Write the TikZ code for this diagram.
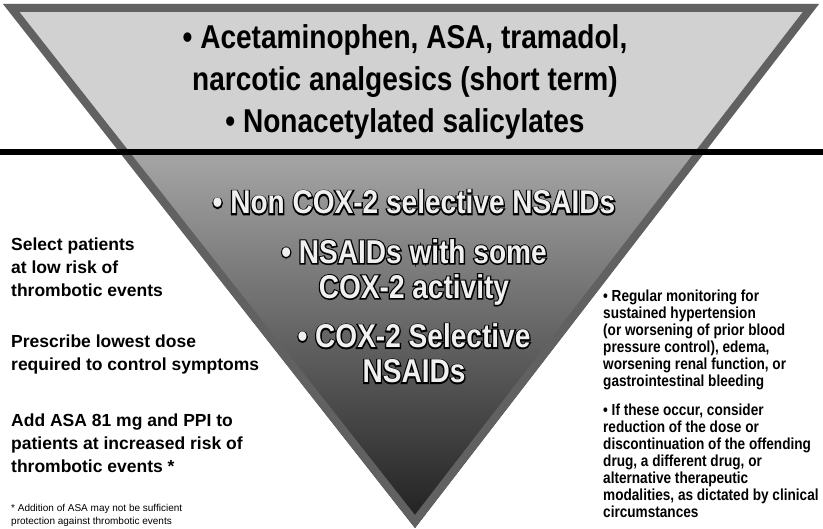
\documentclass[tikz,border=0pt]{standalone}
\usepackage{fontspec}
\setmainfont{Liberation Sans}
\newfontfamily\condsans{Liberation Sans}[FakeStretch=0.85]
\usepackage{tikz}
\usetikzlibrary{calc,positioning}
% light letters with a dark rim: a stroked copy under the filled one
\newcommand\rimmed[1]{\rlap{\special{pdf:literal direct 0 0 0 RG 2.6 w 1 Tr}#1\special{pdf:literal direct 0 Tr}}#1}

\begin{document}
\begin{tikzpicture}[x=1pt,y=-1pt]
  \tikzstyle{tiertext}=[inner sep=0pt, font=\condsans\bfseries\fontsize{33}{42}\selectfont]
  \tikzstyle{drugtext}=[inner sep=0pt, text=black!6, font=\condsans\bfseries\fontsize{33}{35}\selectfont]
  \tikzstyle{advice}=[inner sep=0pt, anchor=north west, font=\bfseries\fontsize{17.5}{23}\selectfont]
  \tikzstyle{caution}=[inner sep=0pt, anchor=north west, font=\condsans\bfseries\fontsize{16}{17}\selectfont]
  \tikzstyle{footnote}=[inner sep=0pt, anchor=north west, font=\fontsize{10}{13}\selectfont]
  \useasboundingbox (0,0) rectangle (823,529);
  \coordinate (Top Left) at (3,4);
  \coordinate (Top Right) at (819,4);
  \coordinate (Apex) at (415,528);
  \coordinate (Cut Left) at ($(Top Left)!0.2824!(Apex)$);
  \coordinate (Cut Right) at ($(Top Right)!0.2824!(Apex)$);
  \coordinate (Bar Left) at (0,152);
  \coordinate (Bar Right) at (823,152);
  \fill[black!18] (Top Left) -- (Top Right) -- (Cut Right) -- (Cut Left) -- cycle;
  \shade[top color=black!35, bottom color=black!88] (Cut Left) -- (Cut Right) -- (Apex) -- cycle;
  \begin{scope}
    \clip (Top Left) -- (Top Right) -- (Apex) -- cycle;
    \draw[black!62, line width=16pt] (Top Left) -- (Top Right) -- (Apex) -- cycle;
  \end{scope}
  \draw[line width=6pt] (Bar Left) -- (Bar Right);
  % upper tier
  \node[tiertext] (Analgesics) at (405,61) {\begin{tabular}{@{}c@{}}\textbullet\ Acetaminophen, ASA, tramadol,\\
                                                               narcotic analgesics (short term)
                                             \end{tabular}};
  \node[tiertext, below=0pt of Analgesics] (Salicylates) {\begin{tabular}{@{}c@{}}\textbullet\ Nonacetylated salicylates
                                                          \end{tabular}};
  % lower tier
  \node[drugtext] (Non Selective) at (414,207) {\begin{tabular}{@{}c@{}}\rimmed{\textbullet\ Non COX-2 selective NSAIDs}
                                                \end{tabular}};
  \node[drugtext, below=14pt of Non Selective] (Some COX) {\begin{tabular}{@{}c@{}}\rimmed{\textbullet\ NSAIDs with some}\\
                                                                                  \rimmed{COX-2 activity}
                                                            \end{tabular}};
  \node[drugtext, below=14pt of Some COX] (Selective) {\begin{tabular}{@{}c@{}}\rimmed{\textbullet\ COX-2 Selective}\\
                                                                              \rimmed{NSAIDs}
                                                        \end{tabular}};
  % left column
  \node[advice] (Select Patients) at (11,234) {\begin{tabular}{@{}l@{}}Select patients\\
                                                                      at low risk of\\
                                                                      thrombotic events
                                                \end{tabular}};
  \node[advice, below=28pt of Select Patients.south west, anchor=north west] (Lowest Dose) {\begin{tabular}{@{}l@{}}Prescribe lowest dose\\
                                                                      required to control symptoms
                                                \end{tabular}};
  \node[advice, below=32pt of Lowest Dose.south west, anchor=north west] (Increased Risk) {\begin{tabular}{@{}l@{}}Add ASA 81 mg and PPI to\\
                                                                      patients at increased risk of\\
                                                                      thrombotic events *
                                                \end{tabular}};
  \node[footnote, below=23pt of Increased Risk.south west, anchor=north west] (Aspirin Note) {\begin{tabular}{@{}l@{}}* Addition of ASA may not be sufficient\\
                                                                      protection against thrombotic events
                                                \end{tabular}};
  % right column
  \node[caution] (Monitoring) at (603,289) {\begin{tabular}{@{}l@{}}\textbullet\ Regular monitoring for\\
                                                                   sustained hypertension\\
                                                                   (or worsening of prior blood\\
                                                                   pressure control), edema,\\
                                                                   worsening renal function, or\\
                                                                   gastrointestinal bleeding
                                             \end{tabular}};
  \node[caution, below=12pt of Monitoring.south west, anchor=north west] (Dose Reduction) {\begin{tabular}{@{}l@{}}\textbullet\ If these occur, consider\\
                                                                   reduction of the dose or\\
                                                                   discontinuation of the offending\\
                                                                   drug, a different drug, or\\
                                                                   alternative therapeutic\\
                                                                   modalities, as dictated by clinical\\
                                                                   circumstances
                                             \end{tabular}};
\end{tikzpicture}
\end{document}
